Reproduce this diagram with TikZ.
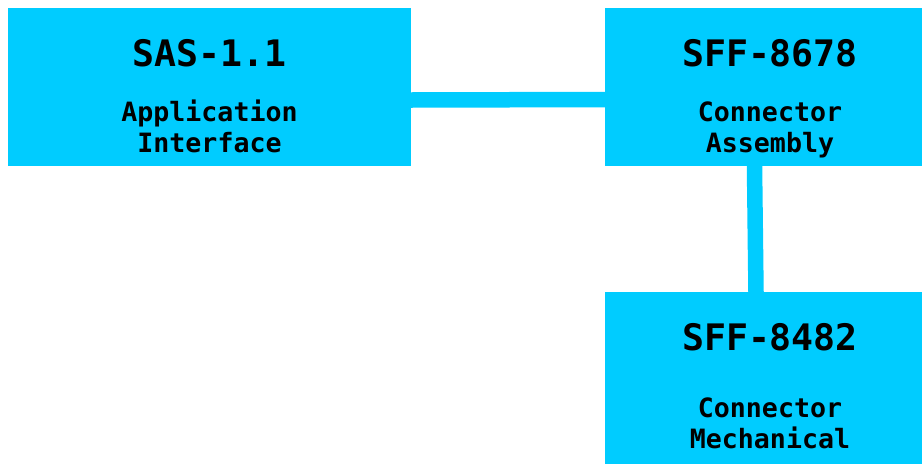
\documentclass[tikz,border=0pt]{standalone}
\usepackage{fontspec}
\setmonofont{DejaVu Sans Mono}
\usepackage{tikz}
\definecolor{sascyan}{RGB}{0,204,255}

\begin{document}
\begin{tikzpicture}[x=1pt, y=-1pt,
        box/.style={rectangle, fill=sascyan, inner sep=0pt, outer sep=0pt},
        title/.style={anchor=base, font=\ttfamily\bfseries\fontsize{36.5}{40}\selectfont},
        sub/.style={anchor=base, align=center, font=\ttfamily\bfseries\fontsize{26.6}{31}\selectfont},
        link/.style={draw=sascyan, line width=15.5pt}]
            \useasboundingbox (0, 0) rectangle (922, 464);

            \node[box, minimum width=403pt, minimum height=158pt] at (209.5, 87)   (app) {};
            \node[box, minimum width=317pt, minimum height=158pt] at (763.5, 87)   (asm) {};
            \node[box, minimum width=317pt, minimum height=172pt] at (763.5, 378)  (mech) {};

            \draw [link] ([yshift=-13pt]app.east) -- ([yshift=-12.5pt]asm.west);
            \draw [link] ([xshift=-9pt]asm.south) -- ([xshift=-7.5pt]mech.north);

            % sub nodes sit on the baseline of their last line
            \node[title] at (209.5, 66.5)  (apptitle) {SAS-1.1};
            \node[sub]   at (209.5, 152)   (appsub) {Application\\Interface};
            \node[title] at (770, 66.5)    (asmtitle) {SFF-8678};
            \node[sub]   at (770, 152)     (asmsub) {Connector\\Assembly};
            \node[title] at (770, 350)     (mechtitle) {SFF-8482};
            \node[sub]   at (770, 448.5)   (mechsub) {Connector\\Mechanical};

        \end{tikzpicture}
\end{document}
